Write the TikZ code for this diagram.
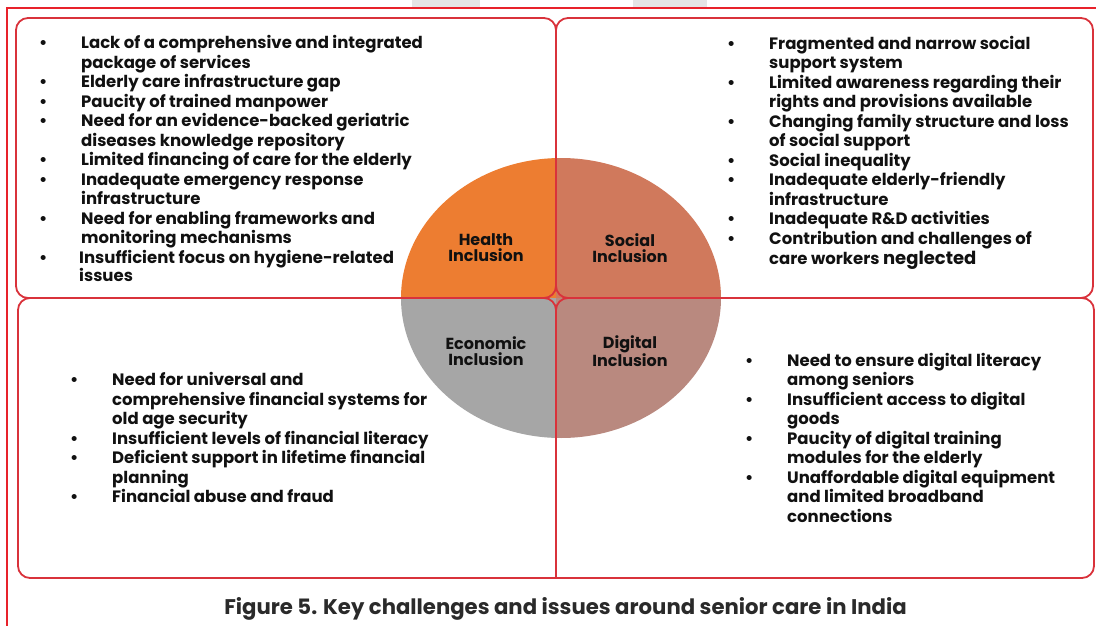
\documentclass[tikz,border=0pt]{standalone}
\usepackage{fontspec}
\setmainfont{Poppins}
\usetikzlibrary{positioning}

\definecolor{framered}{HTML}{E8222B}
\definecolor{boxred}{HTML}{D9323B}
\definecolor{healthc}{HTML}{ED7D31}
\definecolor{socialc}{HTML}{D0795C}
\definecolor{econc}{HTML}{A6A6A6}
\definecolor{digitalc}{HTML}{B9897F}
\definecolor{inkc}{HTML}{111111}
\definecolor{capc}{HTML}{2A2A2A}

\newcommand\bul{\makebox[42pt][l]{\textbullet}}
\newcommand\cont{\hspace*{42pt}}

\tikzset{
  box/.style={draw=boxred, line width=1.8pt, rounded corners=12pt},
  % anchored at the baseline of the last line
  issues/.style={anchor=base west, inner sep=0pt, align=left, text=inkc,
    font=\fontsize{16.5}{19.5}\selectfont\bfseries},
  pillar/.style={align=center, inner sep=0pt, text=inkc,
    font=\fontsize{16}{16}\selectfont\bfseries},
}

\begin{document}
\begin{tikzpicture}[x=1pt, y=-1pt]
		\useasboundingbox (0,0) rectangle (1096,626);
		
		%page frame
		\fill[black!10] (412,0) rectangle (480,7);
		\fill[black!10] (633,0) rectangle (707,7);
		\draw[framered, line width=2.4pt] (7,626) -- (7,8) -- (1096,8);
		
		%four pillars
		\coordinate (hub) at (561,298);
		\begin{scope}
			\clip (hub) ellipse [x radius=160, y radius=140];
			\fill[healthc] (390,150) rectangle (556,298);
			\fill[socialc] (556,150) rectangle (730,298);
			\fill[econc] (390,298) rectangle (556,450);
			\fill[digitalc] (556,298) rectangle (730,450);
		\end{scope}
		
		%boxes
		\draw[box] (16,18) rectangle (556,298);
		\draw[box] (556,18) rectangle (1093,298);
		\draw[box] (556,578) -- (18,578) -- (18,298) -- (556,298) -- (556,578);
		\draw[box] (556,578) -- (1094,578) -- (1094,298) -- (556,298) -- (556,578);
		
		\node (health) [pillar] at (486,248) {Health\\Inclusion};
		\node (social) [pillar] at (630,248) {Social\\Inclusion};
		\node (econ) [pillar] at (486,351) {Economic\\Inclusion};
		\node (digital) [pillar] at (630,351) {Digital\\Inclusion};
		
		%health issues
		\node (healthlist) [issues] at (39,281) {%
			\bul Lack of a comprehensive and integrated\\
			\cont package of services\\
			\bul Elderly care infrastructure gap\\
			\bul Paucity of trained manpower\\
			\bul Need for an evidence-backed geriatric\\
			\cont diseases knowledge repository\\
			\bul Limited financing of care for the elderly\\
			\bul Inadequate emergency response\\
			\cont infrastructure\\
			\bul Need for enabling frameworks and\\
			\cont monitoring mechanisms\\[0.4pt]
			\bul\hspace*{-2pt}Insufficient focus on hygiene-related\\[-2pt]
			\hspace*{40pt}issues};
		
		%social issues
		\node (sociallist) [issues] at (727,264.7) {%
			\bul Fragmented and narrow social\\
			\cont support system\\
			\bul Limited awareness regarding their\\
			\cont rights and provisions available\\
			\bul Changing family structure and loss\\
			\cont of social support\\
			\bul Social inequality\\
			\bul Inadequate elderly-friendly\\
			\cont infrastructure\\
			\bul Inadequate R\&D activities\\
			\bul Contribution and challenges of\\[1.2pt]
			\cont care workers {\fontsize{18}{19}\selectfont neglected}};
		
		%economic issues
		\node (econlist) [issues] at (70,502.7) {%
			\bul Need for universal and\\
			\cont comprehensive financial systems for\\
			\cont old age security\\
			\bul Insufficient levels of financial literacy\\
			\bul Deficient support in lifetime financial\\
			\cont planning\\
			\bul Financial abuse and fraud};
		
		%digital issues
		\node (digitallist) [issues] at (745,522) {%
			\bul Need to ensure digital literacy\\
			\cont among seniors\\
			\bul Insufficient access to digital\\
			\cont goods\\
			\bul Paucity of digital training\\
			\cont modules for the elderly\\
			\bul Unaffordable digital equipment\\
			\cont and limited broadband\\
			\cont connections};
		
		\node (caption) [text=capc, font=\fontsize{21.2}{24}\selectfont\bfseries] at (565.5,609) {Figure 5. Key challenges and issues around senior care in India};
\end{tikzpicture}
\end{document}
